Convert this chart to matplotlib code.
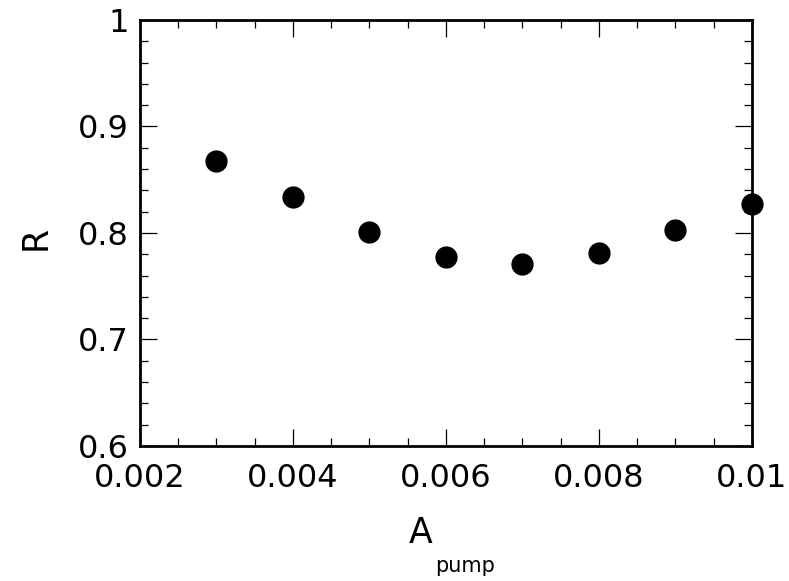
import matplotlib.pyplot as plt
from matplotlib.ticker import MultipleLocator

# data
a_pump = [0.003, 0.004, 0.005, 0.006, 0.007, 0.008, 0.009, 0.010]
r_vals = [0.868, 0.834, 0.801, 0.777, 0.771, 0.781, 0.803, 0.827]
x_ticks = [0.002, 0.004, 0.006, 0.008, 0.010]
x_labels = ['0.002', '0.004', '0.006', '0.008', '0.01']
y_ticks = [0.6, 0.7, 0.8, 0.9, 1.0]
y_labels = ['0.6', '0.7', '0.8', '0.9', '1']

fig = plt.figure(figsize=(7.89, 5.81), dpi=100)
ax = fig.add_axes([0.1774, 0.2324, 0.7756, 0.7332])

ax.plot(a_pump, r_vals, 'o', color='black', markersize=15, clip_on=False, zorder=5)

ax.set_xlim(0.002, 0.010)
ax.set_ylim(0.6, 1.0)
ax.set_xticks(x_ticks)
ax.set_xticklabels(x_labels)
ax.set_yticks(y_ticks)
ax.set_yticklabels(y_labels)
ax.xaxis.set_minor_locator(MultipleLocator(0.0005))
ax.yaxis.set_minor_locator(MultipleLocator(0.02))

ax.tick_params(which='both', direction='in', top=True, right=True, labelsize=23, width=0.9)
ax.tick_params(which='major', length=12)
ax.tick_params(which='minor', length=6)
ax.tick_params(axis='x', which='major', pad=12)
ax.tick_params(axis='y', which='major', pad=8)
for s in ax.spines.values():
    s.set_linewidth(2)

fig.text(0.533, 0.065, 'A', fontsize=25, ha='center', va='baseline')
fig.text(0.59, 0.015, 'pump', fontsize=15, ha='center', va='baseline')
fig.text(0.045, 0.59, 'R', fontsize=25, rotation=90, ha='center', va='center')

fig.savefig('out.png', dpi=100)
